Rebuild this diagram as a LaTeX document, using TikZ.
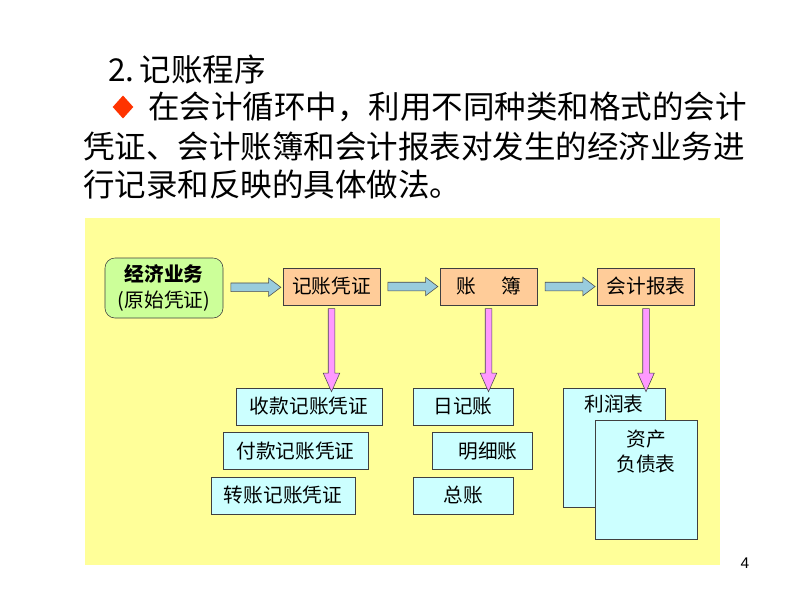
\documentclass[tikz,border=0pt]{standalone}
\usepackage{fontspec}
\setmainfont{Noto Sans CJK SC}
\newfontfamily\pagenumfont{Liberation Sans}
\usetikzlibrary{shapes.arrows,shapes.geometric}

\definecolor{bgyellow}{HTML}{FFFF99}
\definecolor{startgreen}{HTML}{CCFF99}
\definecolor{steporange}{HTML}{FFCC99}
\definecolor{itemcyan}{HTML}{CCFFFF}
\definecolor{flowblue}{HTML}{99CCDD}
\definecolor{downpink}{HTML}{FF99FF}
\definecolor{markred}{HTML}{FF3300}

\tikzset{
  stepbox/.style={draw=black!75,fill=steporange,inner sep=0pt,
    minimum width=2.425cm,minimum height=0.925cm,font=\fontsize{14}{16}\selectfont},
  itembox/.style={draw=black!75,fill=itemcyan,inner sep=0pt,
    minimum height=0.925cm,font=\fontsize{14}{16}\selectfont},
  sheetbox/.style={draw=black!75,fill=itemcyan,inner sep=0pt,
    minimum width=2.55cm,minimum height=2.975cm},
  flowarrow/.style={single arrow,draw=black!70,fill=flowblue,inner sep=0.1cm,
    minimum height=1.25cm,single arrow head extend=0.125cm,single arrow tip angle=74},
  downarrow/.style={single arrow,draw=black!70,fill=downpink,inner sep=0.075cm,
    minimum height=2.075cm,single arrow head extend=0.125cm,single arrow tip angle=48,
    rotate=-90},
  bodytext/.style={anchor=west,inner sep=0pt,font=\fontsize{22.4}{26}\selectfont}
}

\begin{document}
\begin{tikzpicture}[x=0.025cm,y=-0.025cm]
  \useasboundingbox[fill=white] (0,0) rectangle (800,600);

  % heading and text
  \node[bodytext] (title) at (108,70) {2.\,记账程序};
  \node[diamond,fill=markred,inner sep=0pt,minimum width=0.52cm,minimum height=0.58cm] (mark) at (123,107) {};
  \node[bodytext] (line1) at (148,107) {在会计循环中，利用不同种类和格式的会计};
  \node[bodytext] (line2) at (83,147) {凭证、会计账簿和会计报表对发生的经济业务进};
  \node[bodytext] (line3) at (83,185) {行记录和反映的具体做法。};

  % panel
  \fill[bgyellow] (85,218) rectangle (720,565);

  % top row
  \node[draw=black!75,fill=startgreen,rounded corners=0.25cm,inner sep=0pt,
        minimum width=2.95cm,minimum height=1.5cm,align=center,
        font=\fontsize{14}{18}\selectfont] (jjyw) at (164,288)
        {\textbf{经济业务}\\(原始凭证)};
  \node[stepbox] (jzpz) at (331.5,286.5) {记账凭证};
  \node[stepbox] (zb) at (488.5,286.5) {账\hspace{1.3em}簿};
  \node[stepbox] (kjbb) at (646,286.5) {会计报表};

  % vouchers
  \node[itembox,minimum width=3.65cm] (skpz) at (309,406.5) {收款记账凭证};
  \node[itembox,minimum width=3.625cm] (fkpz) at (295.5,451) {付款记账凭证};
  \node[itembox,minimum width=3.6cm] (zzpz) at (283,495.5) {转账记账凭证};

  % books
  \node[itembox,minimum width=2.5cm] (rjz) at (463,406.5) {日记账};
  \node[itembox,minimum width=2.5cm] (mxz) at (482,451) {\hspace{0.6em}明细账};
  \node[itembox,minimum width=2.5cm] (zz) at (463,495.5) {总账};

  % statements
  \node[sheetbox,label={[anchor=north,yshift=-0.06cm,font=\fontsize{14}{16}\selectfont]north:利润表}] (lrb) at (614,447.5) {};
  \node[sheetbox,label={[anchor=north,yshift=-0.12cm,align=center,font=\fontsize{14}{18}\selectfont]north:资产\\负债表}] (zcfzb) at (646,480) {};

  % arrows
  \path (jjyw.east) -- (jzpz.west) node[midway,flowarrow] {};
  \path (jzpz.east) -- (zb.west) node[midway,flowarrow] {};
  \path (zb.east) -- (kjbb.west) node[midway,flowarrow] {};

  \path (jzpz.south) -- (jzpz.south |- skpz.north) node[midway,downarrow] {};
  \path (zb.south) -- (zb.south |- rjz.north) node[midway,downarrow] {};
  \path (kjbb.south) -- (kjbb.south |- lrb.north) node[midway,downarrow] {};

  \node[font=\pagenumfont\fontsize{11}{13}\selectfont] (pnum) at (745,563) {4};
\end{tikzpicture}
\end{document}
